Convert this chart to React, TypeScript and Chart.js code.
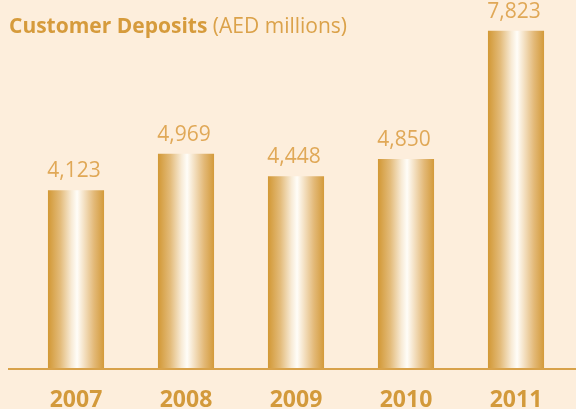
import React, { useEffect, useRef } from "react";
import { Chart, registerables } from "chart.js";

Chart.register(...registerables);

const years = ["2007", "2008", "2009", "2010", "2011"];
const deposits = [4123, 4969, 4448, 4850, 7823];
const titleBold = "Customer Deposits";
const titleRest = " (AED millions)";

const BG = "#FDEEDC";
const GOLD = "#D49B3E";
const LABEL = "#E0A857";
const FONT = "'Open Sans', 'Noto Sans', sans-serif";
const BAR_PCT = 0.51;

export default function App() {
  const ref = useRef<HTMLCanvasElement | null>(null);

  useEffect(() => {
    const canvas = ref.current;
    if (!canvas) return;

    const decor = {
      id: "decor",
      beforeDraw(chart: any) {
        const ctx = chart.ctx;
        ctx.save();
        ctx.fillStyle = BG;
        ctx.fillRect(0, 0, chart.width, chart.height);
        ctx.textBaseline = "alphabetic";
        ctx.textAlign = "left";
        ctx.fillStyle = "#D69B3C";
        ctx.font = `bold 21px ${FONT}`;
        ctx.fillText(titleBold, 9, 33);
        const w = ctx.measureText(titleBold).width;
        ctx.fillStyle = "#DBA24A";
        ctx.font = `21px ${FONT}`;
        ctx.fillText(titleRest, 9 + w, 33);
        ctx.restore();
      },
      afterDatasetsDraw(chart: any) {
        const ctx = chart.ctx;
        const ys = chart.scales.y;
        const y0 = ys.getPixelForValue(0);
        ctx.save();
        ctx.strokeStyle = "#D8A24A";
        ctx.lineWidth = 2;
        ctx.beginPath();
        ctx.moveTo(8, y0 + 1);
        ctx.lineTo(chart.width, y0 + 1);
        ctx.stroke();
        const meta = chart.getDatasetMeta(0);
        ctx.fillStyle = LABEL;
        ctx.font = `21px ${FONT}`;
        ctx.textAlign = "center";
        ctx.textBaseline = "alphabetic";
        meta.data.forEach((el: any, i: number) => {
          ctx.fillText(deposits[i].toLocaleString("en-US"), el.x - 2, el.y - 13);
        });
        ctx.restore();
      },
    };

    const chart = new Chart(canvas, {
      type: "bar",
      data: {
        labels: years,
        datasets: [
          {
            data: deposits,
            categoryPercentage: 1,
            barPercentage: BAR_PCT,
            borderWidth: 0,
            backgroundColor: (c: any) => {
              const ch = c.chart;
              const xs = ch.scales?.x;
              const area = ch.chartArea;
              if (!xs || !area || c.dataIndex == null) return GOLD;
              const cx = xs.getPixelForValue(c.dataIndex);
              const half = (area.width / years.length) * BAR_PCT / 2;
              const g = ch.ctx.createLinearGradient(cx - half, 0, cx + half, 0);
              g.addColorStop(0, "#D29835");
              g.addColorStop(0.22, "#E3BB7A");
              g.addColorStop(0.42, "#F8EBD6");
              g.addColorStop(0.52, "#FFFDF8");
              g.addColorStop(0.62, "#F6E6CD");
              g.addColorStop(0.82, "#E3B978");
              g.addColorStop(1, "#D39A3A");
              return g;
            },
          },
        ],
      },
      options: {
        responsive: false,
        animation: false,
        layout: { padding: { left: 21, right: 5, top: 8, bottom: 0 } },
        plugins: {
          legend: { display: false },
          tooltip: { enabled: false },
          title: { display: false },
        },
        scales: {
          x: {
            grid: { display: false, drawTicks: false },
            border: { display: false },
            ticks: {
              color: "#D39A3B",
              font: { family: FONT, size: 23, weight: "bold" },
              padding: 19,
            },
            afterFit: (s: any) => {
              s.height = 41;
            },
          },
          y: {
            display: false,
            min: 0,
            max: 8350,
          },
        },
      },
      plugins: [decor],
    });

    return () => chart.destroy();
  }, []);

  return (
    <div style={{ position: "absolute", top: 0, left: 0, width: 576, height: 409 }}>
      <canvas ref={ref} width={576} height={409} />
    </div>
  );
}
